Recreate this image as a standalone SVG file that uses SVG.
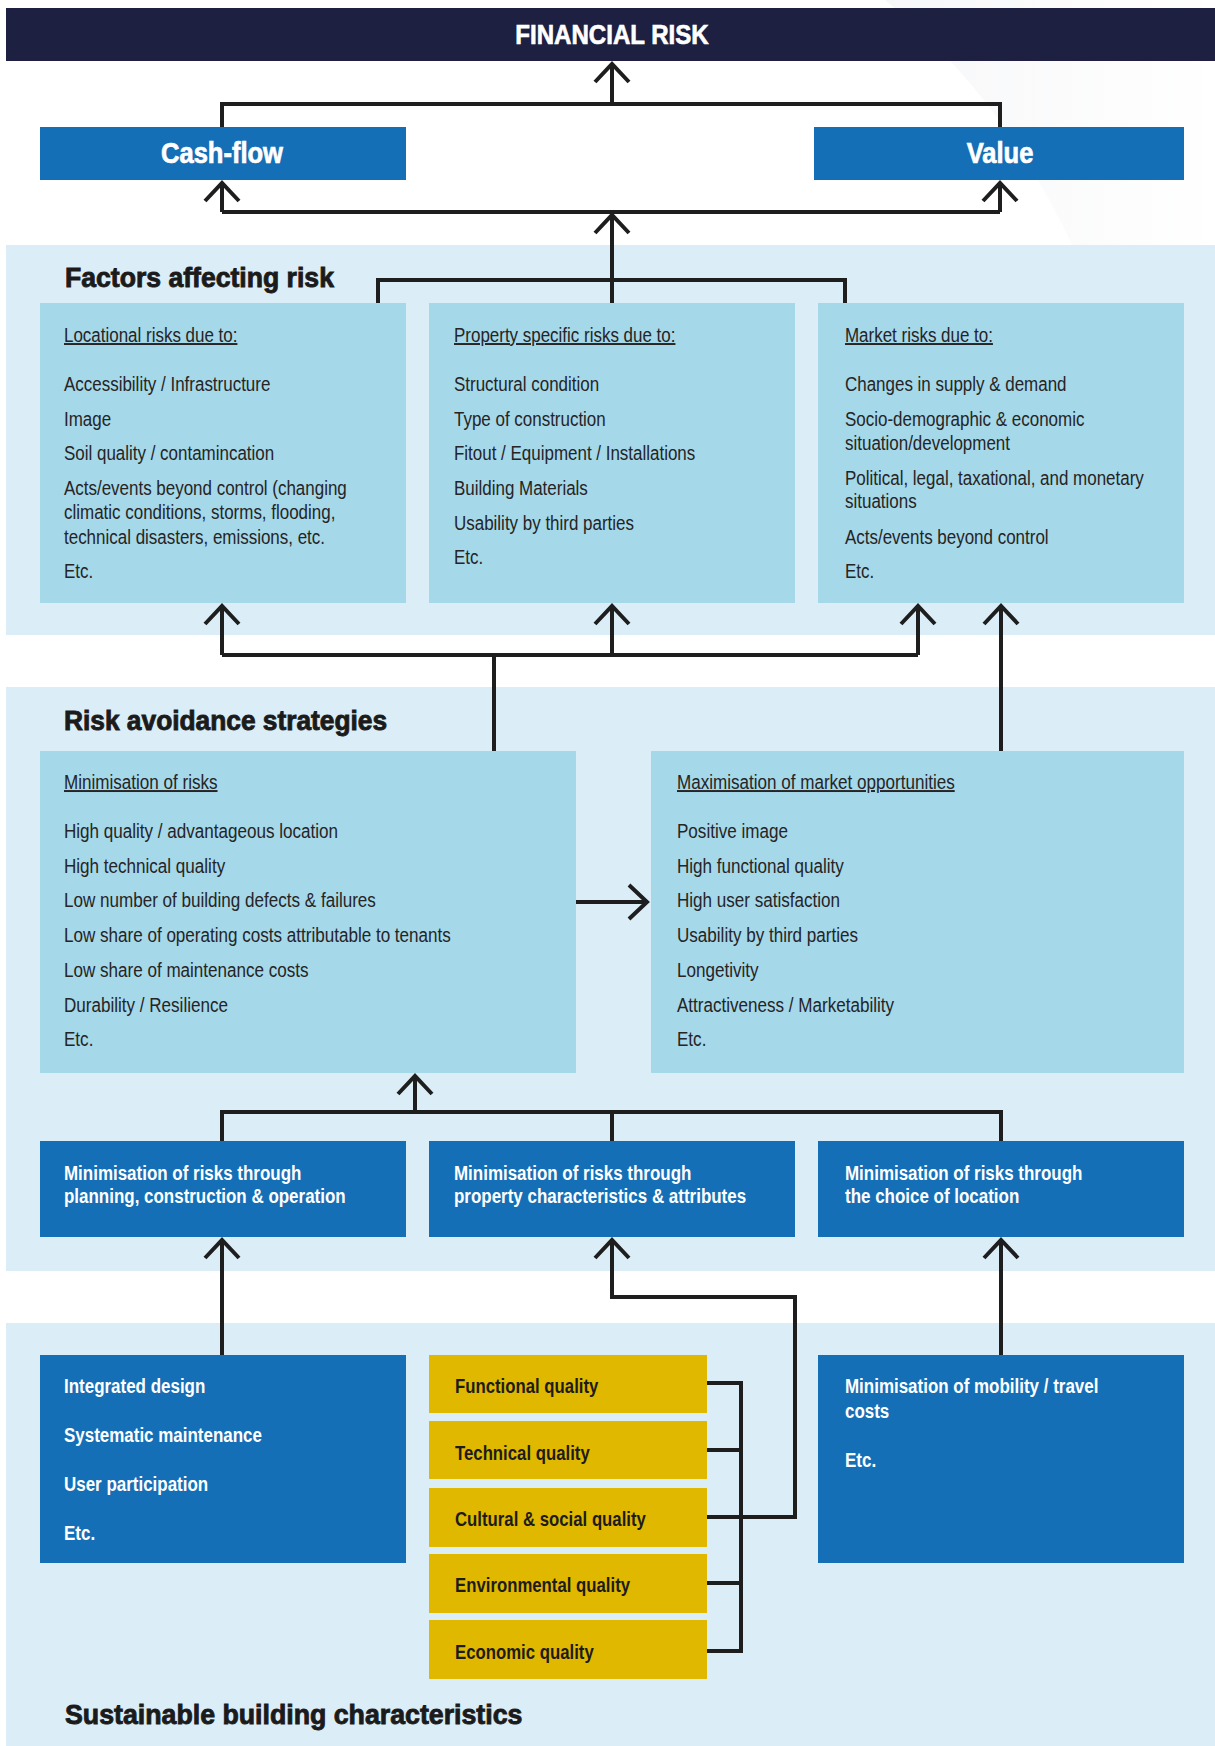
<svg xmlns="http://www.w3.org/2000/svg" width="1215" height="1746" viewBox="0 0 1215 1746">
<defs>
<style>
.t{font-family:"Liberation Sans",Arial,sans-serif;font-size:19.5px;fill:#262425}
.u{text-decoration:underline}
.bw{font-family:"Liberation Sans",Arial,sans-serif;font-size:19.5px;font-weight:bold;fill:#ffffff}
.by{font-family:"Liberation Sans",Arial,sans-serif;font-size:19.5px;font-weight:bold;fill:#1e1c1a}
.h{font-family:"Liberation Sans",Arial,sans-serif;font-size:28px;font-weight:bold;fill:#1b1b1b;stroke:#1b1b1b;stroke-width:0.9}
.big{font-family:"Liberation Sans",Arial,sans-serif;font-size:29px;font-weight:bold;fill:#ffffff;stroke:#ffffff;stroke-width:0.7}
.band{fill:#dbeef7}
.lb{fill:#a5d8e9}
.blue{fill:#146fb7}
.yel{fill:#e0b800}
.ln{fill:none;stroke:#1e1e1e;stroke-width:4;stroke-linejoin:miter}
.ar{marker-end:url(#ah)}
</style>
<marker id="ah" markerUnits="userSpaceOnUse" viewBox="-22 -22 44 44" markerWidth="44" markerHeight="44" refX="0" refY="0" orient="auto" overflow="visible">
<path d="M-18,-17 L0,0 L-18,17" fill="none" stroke="#1e1e1e" stroke-width="4" stroke-linejoin="miter"/>
</marker>
<linearGradient id="sw" x1="0" y1="0" x2="1" y2="0">
<stop offset="0" stop-color="#f1f2f5"/>
<stop offset="1" stop-color="#ffffff"/>
</linearGradient>
</defs>
<rect x="0" y="0" width="1215" height="1746" fill="#ffffff"/>
<path d="M885,0 Q1060,140 1135,420 L1215,420 L1215,0 Z" fill="url(#sw)" opacity="0.6"/>

<!-- bands -->
<rect class="band" x="6" y="245" width="1209" height="390"/>
<rect class="band" x="6" y="687" width="1209" height="584"/>
<rect class="band" x="6" y="1323" width="1209" height="423"/>

<g id="financial-risk">
<rect x="6" y="8" width="1209" height="53" fill="#1d2040"/>
<g transform="translate(612 0) scale(0.86 1)"><text class="big" x="0" y="44" text-anchor="middle" style="font-size:28px">FINANCIAL RISK</text></g>
</g>

<g id="cash-flow">
<rect class="blue" x="40" y="127" width="366" height="53"/>
<g transform="translate(222 0) scale(0.88 1)"><text class="big" x="0" y="163" text-anchor="middle">Cash-flow</text></g>
</g>

<g id="value">
<rect class="blue" x="814" y="127" width="370" height="53"/>
<g transform="translate(1000 0) scale(0.88 1)"><text class="big" x="0" y="163" text-anchor="middle">Value</text></g>
</g>

<g id="heading-factors">
<g transform="translate(65 0) scale(0.95 1)"><text class="h" x="0" y="287">Factors affecting risk</text></g>
</g>

<g id="locational-risks">
<rect class="lb" x="40" y="303" width="366" height="300"/>
<g class="t" transform="translate(64 0) scale(0.87 1)">
<text class="t u" x="0" y="342">Locational risks due to:</text>
<text class="t" x="0" y="391">Accessibility / Infrastructure</text>
<text class="t" x="0" y="426">Image</text>
<text class="t" x="0" y="460">Soil quality / contamincation</text>
<text class="t" x="0" y="495">Acts/events beyond control (changing</text>
<text class="t" x="0" y="519">climatic conditions, storms, flooding,</text>
<text class="t" x="0" y="544">technical disasters, emissions, etc.</text>
<text class="t" x="0" y="578">Etc.</text>
</g>
</g>

<g id="property-risks">
<rect class="lb" x="429" y="303" width="366" height="300"/>
<g transform="translate(454 0) scale(0.87 1)">
<text class="t u" x="0" y="342">Property specific risks due to:</text>
<text class="t" x="0" y="391">Structural condition</text>
<text class="t" x="0" y="426">Type of construction</text>
<text class="t" x="0" y="460">Fitout / Equipment / Installations</text>
<text class="t" x="0" y="495">Building Materials</text>
<text class="t" x="0" y="530">Usability by third parties</text>
<text class="t" x="0" y="564">Etc.</text>
</g>
</g>

<g id="market-risks">
<rect class="lb" x="818" y="303" width="366" height="300"/>
<g transform="translate(845 0) scale(0.87 1)">
<text class="t u" x="0" y="342">Market risks due to:</text>
<text class="t" x="0" y="391">Changes in supply &amp; demand</text>
<text class="t" x="0" y="426">Socio-demographic &amp; economic</text>
<text class="t" x="0" y="450">situation/development</text>
<text class="t" x="0" y="485">Political, legal, taxational, and monetary</text>
<text class="t" x="0" y="508">situations</text>
<text class="t" x="0" y="544">Acts/events beyond control</text>
<text class="t" x="0" y="578">Etc.</text>
</g>
</g>

<g id="heading-strategies">
<g transform="translate(64 0) scale(0.94 1)"><text class="h" x="0" y="730">Risk avoidance strategies</text></g>
</g>

<g id="minimisation-of-risks">
<rect class="lb" x="40" y="751" width="536" height="322"/>
<g transform="translate(64 0) scale(0.875 1)">
<text class="t u" x="0" y="789">Minimisation of risks</text>
<text class="t" x="0" y="838">High quality / advantageous location</text>
<text class="t" x="0" y="873">High technical quality</text>
<text class="t" x="0" y="907">Low number of building defects &amp; failures</text>
<text class="t" x="0" y="942">Low share of operating costs attributable to tenants</text>
<text class="t" x="0" y="977">Low share of maintenance costs</text>
<text class="t" x="0" y="1012">Durability / Resilience</text>
<text class="t" x="0" y="1046">Etc.</text>
</g>
</g>

<g id="maximisation-of-opportunities">
<rect class="lb" x="651" y="751" width="533" height="322"/>
<g transform="translate(677 0) scale(0.875 1)">
<text class="t u" x="0" y="789">Maximisation of market opportunities</text>
<text class="t" x="0" y="838">Positive image</text>
<text class="t" x="0" y="873">High functional quality</text>
<text class="t" x="0" y="907">High user satisfaction</text>
<text class="t" x="0" y="942">Usability by third parties</text>
<text class="t" x="0" y="977">Longetivity</text>
<text class="t" x="0" y="1012">Attractiveness / Marketability</text>
<text class="t" x="0" y="1046">Etc.</text>
</g>
</g>

<g id="min-planning">
<rect class="blue" x="40" y="1141" width="366" height="96"/>
<g transform="translate(64 0) scale(0.87 1)">
<text class="bw" x="0" y="1180">Minimisation of risks through</text>
<text class="bw" x="0" y="1203">planning, construction &amp; operation</text>
</g>
</g>

<g id="min-property">
<rect class="blue" x="429" y="1141" width="366" height="96"/>
<g transform="translate(454 0) scale(0.87 1)">
<text class="bw" x="0" y="1180">Minimisation of risks through</text>
<text class="bw" x="0" y="1203">property characteristics &amp; attributes</text>
</g>
</g>

<g id="min-location">
<rect class="blue" x="818" y="1141" width="366" height="96"/>
<g transform="translate(845 0) scale(0.87 1)">
<text class="bw" x="0" y="1180">Minimisation of risks through</text>
<text class="bw" x="0" y="1203">the choice of location</text>
</g>
</g>

<g id="process-measures">
<rect class="blue" x="40" y="1355" width="366" height="208"/>
<g transform="translate(64 0) scale(0.87 1)">
<text class="bw" x="0" y="1393">Integrated design</text>
<text class="bw" x="0" y="1442">Systematic maintenance</text>
<text class="bw" x="0" y="1491">User participation</text>
<text class="bw" x="0" y="1540">Etc.</text>
</g>
</g>

<g id="functional-quality">
<rect class="yel" x="429" y="1355" width="278" height="58"/>
<g transform="translate(455 0) scale(0.86 1)"><text class="by" x="0" y="1393">Functional quality</text></g>
</g>
<g id="technical-quality">
<rect class="yel" x="429" y="1421" width="278" height="58"/>
<g transform="translate(455 0) scale(0.86 1)"><text class="by" x="0" y="1460">Technical quality</text></g>
</g>
<g id="cultural-social-quality">
<rect class="yel" x="429" y="1488" width="278" height="59"/>
<g transform="translate(455 0) scale(0.86 1)"><text class="by" x="0" y="1526">Cultural &amp; social quality</text></g>
</g>
<g id="environmental-quality">
<rect class="yel" x="429" y="1554" width="278" height="59"/>
<g transform="translate(455 0) scale(0.86 1)"><text class="by" x="0" y="1592">Environmental quality</text></g>
</g>
<g id="economic-quality">
<rect class="yel" x="429" y="1620" width="278" height="59"/>
<g transform="translate(455 0) scale(0.86 1)"><text class="by" x="0" y="1659">Economic quality</text></g>
</g>

<g id="location-measures">
<rect class="blue" x="818" y="1355" width="366" height="208"/>
<g transform="translate(845 0) scale(0.87 1)">
<text class="bw" x="0" y="1393">Minimisation of mobility / travel</text>
<text class="bw" x="0" y="1418">costs</text>
<text class="bw" x="0" y="1467">Etc.</text>
</g>
</g>

<g id="heading-sustainable">
<g transform="translate(65 0) scale(0.955 1)"><text class="h" x="0" y="1724">Sustainable building characteristics</text></g>
</g>

<g id="connectors">
<!-- to financial risk -->
<path class="ln" d="M222,127 V104 H1000 V127"/>
<path class="ln ar" d="M612,104 V64"/>
<!-- factors to cash-flow / value -->
<path class="ln" d="M222,212 H1000"/>
<path class="ln ar" d="M222,212 V183"/>
<path class="ln ar" d="M1000,212 V183"/>
<path class="ln ar" d="M612,303 V215"/>
<path class="ln" d="M378,303 V280 H845 V303"/>
<!-- strategies to factors -->
<path class="ln" d="M494,751 V655"/>
<path class="ln" d="M222,655 H918"/>
<path class="ln ar" d="M222,655 V606"/>
<path class="ln ar" d="M612,655 V606"/>
<path class="ln ar" d="M918,655 V606"/>
<path class="ln ar" d="M1001,751 V606"/>
<!-- minimisation to maximisation -->
<path class="ln ar" d="M576,902 H647"/>
<!-- middle row to minimisation -->
<path class="ln" d="M222,1141 V1112 H1001 V1141"/>
<path class="ln" d="M612,1112 V1141"/>
<path class="ln ar" d="M415,1112 V1076"/>
<!-- bottom row to middle row -->
<path class="ln ar" d="M222,1355 V1240"/>
<path class="ln ar" d="M1001,1355 V1240"/>
<path class="ln" d="M707,1383 H741 V1651 H707"/>
<path class="ln" d="M707,1450 H741"/>
<path class="ln" d="M707,1583 H741"/>
<path class="ln ar" d="M707,1517 H795 V1297 H612 V1240"/>
</g>
</svg>
